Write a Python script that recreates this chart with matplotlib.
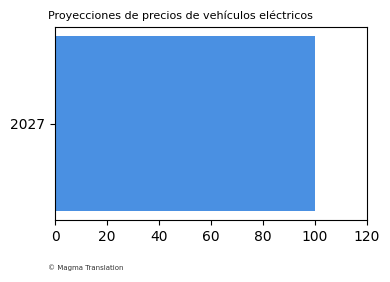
import matplotlib
matplotlib.use("Agg")
from matplotlib import pyplot as plt

years = ["2027"]
prices = [100]

fig = plt.figure(figsize=(3.9, 2.82), dpi=100)
ax = fig.add_axes([55 / 390, 1 - 220 / 282, 312 / 390, 193 / 282])

ax.barh(years, prices, color="#4A90E2", height=0.8)
ax.set_xlim(0, 120)
ax.set_xticks([0, 20, 40, 60, 80, 100, 120])

fig.text(48 / 390, 1 - 16 / 282, "Proyecciones de precios de vehículos eléctricos",
         fontsize=8, ha="left", va="center")
fig.text(48 / 390, 1 - 268 / 282, "© Magma Translation",
         fontsize=5, ha="left", va="center", color="#333333")

fig.savefig("out.png", dpi=100)
